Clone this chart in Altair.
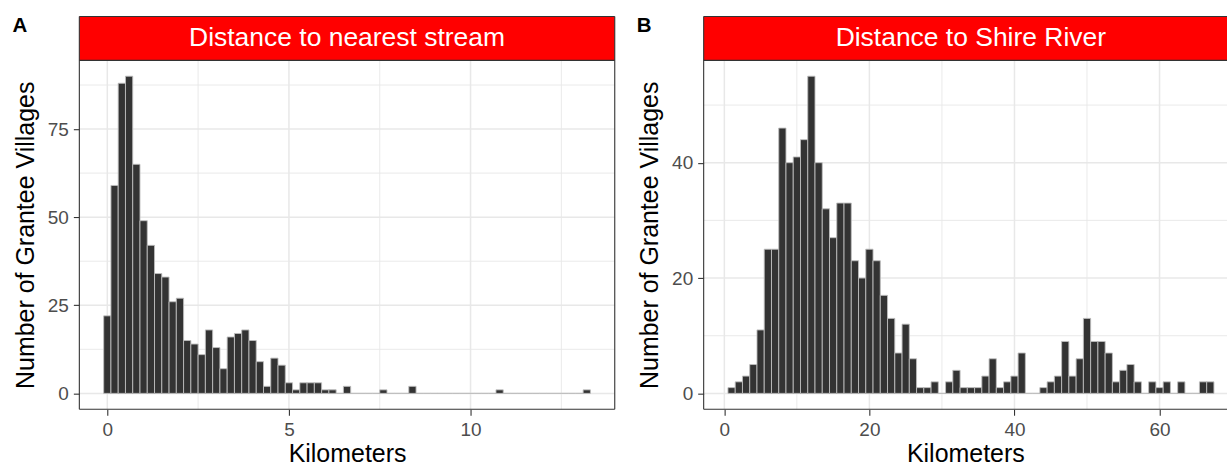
import altair as alt
import pandas as pd

FONT = "Liberation Sans"

# ---------------- data ----------------
a_bin_centers = [0.0, 0.2, 0.4, 0.6, 0.8, 1.0, 1.2, 1.4, 1.6, 1.8,
                 2.0, 2.2, 2.4, 2.6, 2.8, 3.0, 3.2, 3.4, 3.6, 3.8,
                 4.0, 4.2, 4.4, 4.6, 4.8, 5.0, 5.2, 5.4, 5.6, 5.8,
                 6.0, 6.2, 6.4, 6.6, 6.8, 7.0, 7.2, 7.4, 7.6, 7.8,
                 8.0, 8.2, 8.4, 8.6, 8.8, 9.0, 9.2, 9.4, 9.6, 9.8,
                 10.0, 10.2, 10.4, 10.6, 10.8, 11.0, 11.2, 11.4, 11.6, 11.8,
                 12.0, 12.2, 12.4, 12.6, 12.8, 13.0, 13.2]
a_counts = [22, 59, 88, 90, 65, 49, 42, 34, 33, 26,
            27, 15, 14, 11, 18, 13, 7, 16, 17, 18,
            15, 9, 2, 10, 8, 3, 1, 3, 3, 3,
            1, 1, 0, 2, 0, 0, 0, 0, 1, 0,
            0, 0, 2, 0, 0, 0, 0, 0, 0, 0,
            0, 0, 0, 0, 1, 0, 0, 0, 0, 0,
            0, 0, 0, 0, 0, 0, 1]
a_bin_width = 0.2

b_bin_centers = [1, 2, 3, 4, 5, 6, 7, 8, 9, 10,
                 11, 12, 13, 14, 15, 16, 17, 18, 19, 20,
                 21, 22, 23, 24, 25, 26, 27, 28, 29, 30,
                 31, 32, 33, 34, 35, 36, 37, 38, 39, 40,
                 41, 42, 43, 44, 45, 46, 47, 48, 49, 50,
                 51, 52, 53, 54, 55, 56, 57, 58, 59, 60,
                 61, 62, 63, 64, 65, 66, 67]
b_counts = [1, 2, 3, 5, 11, 25, 25, 46, 40, 41,
            44, 55, 40, 32, 27, 33, 33, 23, 20, 25,
            23, 17, 13, 7, 12, 6, 1, 1, 2, 0,
            2, 4, 1, 1, 1, 3, 6, 1, 2, 3,
            7, 0, 0, 1, 2, 3, 9, 3, 6, 13,
            9, 9, 7, 2, 4, 5, 2, 0, 2, 1,
            2, 0, 2, 0, 0, 2, 2]
b_bin_width = 1.0

panel_titles = ["Distance to nearest stream", "Distance to Shire River"]
panel_letters = ["A", "B"]
x_title = "Kilometers"
y_title = "Number of Grantee Villages"

a_x_major = [0, 5, 10]
a_x_minor = [2.5, 7.5, 12.5]
a_y_major = [0, 25, 50, 75]
a_y_minor = [12.5, 37.5, 62.5, 87.5]
b_x_major = [0, 20, 40, 60]
b_x_minor = [10, 30, 50]
b_y_major = [0, 20, 40]
b_y_minor = [10, 30, 50]

a_x_domain = [-0.77, 13.97]
a_y_domain = [-4.5, 94.5]
b_x_domain = [-2.85, 69.3]
b_y_domain = [-2.75, 57.75]

# ---------------- layout ----------------
H = 393.6      # strip + plot height
STRIP = 44     # strip height
W_A = 536.5
W_B = 524.4
BORDER = "#333333"
GRID = "#E8E8E8"
ONE = alt.Data(values=[{"k": 0}])


def panel(centers, counts, bw, xdom, ydom, xmaj, xmin, ymaj, ymin, W,
          title, title_x, letter, right_border):
    bars = pd.DataFrame({
        "start": [c - bw / 2 for c in centers],
        "end": [c + bw / 2 for c in centers],
        "count": counts,
    })
    xs = alt.Scale(domain=xdom, nice=False, zero=False)
    ys = alt.Scale(domain=ydom, range=[H, STRIP], nice=False, zero=False)
    xax = alt.Axis(values=xmaj, grid=False, domain=False, title=x_title,
                   labelFlush=False, labelOverlap=False)
    yax = alt.Axis(values=ymaj, grid=False, domain=False, title=y_title,
                   labelOverlap=False)

    def X(f):
        return alt.X(f, type="quantitative", scale=xs, axis=xax)

    def Y(f):
        return alt.Y(f, type="quantitative", scale=ys, axis=yax)

    layers = []
    for vals, sw in ((ymin, 0.9), (ymaj, 1.5)):
        layers.append(
            alt.Chart(pd.DataFrame({"v": vals})).mark_rule(color=GRID, strokeWidth=sw)
            .encode(y=Y("v"), x=alt.value(0), x2=alt.value(W))
        )
    for vals, sw in ((xmin, 0.9), (xmaj, 1.5)):
        layers.append(
            alt.Chart(pd.DataFrame({"v": vals})).mark_rule(color=GRID, strokeWidth=sw)
            .encode(x=X("v"), y=alt.value(STRIP), y2=alt.value(H))
        )
    layers.append(
        alt.Chart(bars).mark_rect(fill="#333333", stroke="#BDBDBD", strokeWidth=0.9)
        .encode(x=X("start"), x2="end", y=Y("count"), y2=alt.datum(0))
    )
    layers.append(
        alt.Chart(ONE).mark_rect(fill="#FF0000")
        .encode(x=alt.value(0), x2=alt.value(W), y=alt.value(0), y2=alt.value(STRIP))
    )
    for yv in (0, STRIP, H):
        layers.append(
            alt.Chart(ONE).mark_rule(color=BORDER, strokeWidth=1.1)
            .encode(y=alt.value(yv), x=alt.value(0), x2=alt.value(W))
        )
    xs_border = [0, W] if right_border else [0]
    for xv in xs_border:
        layers.append(
            alt.Chart(ONE).mark_rule(color=BORDER, strokeWidth=1.1)
            .encode(x=alt.value(xv), y=alt.value(0), y2=alt.value(H))
        )
    layers.append(
        alt.Chart(ONE).mark_text(text=title, color="white", fontSize=26.5, font=FONT,
                                 align="center", baseline="middle")
        .encode(x=alt.value(title_x), y=alt.value(STRIP / 2))
    )
    layers.append(
        alt.Chart(ONE).mark_text(text=letter, color="black", fontSize=20.5, font=FONT,
                                 fontWeight="bold", align="left", baseline="top")
        .encode(x=alt.value(-67), y=alt.value(0))
    )
    return alt.layer(*layers).properties(width=W, height=H)


pA = panel(a_bin_centers, a_counts, a_bin_width, a_x_domain, a_y_domain,
           a_x_major, a_x_minor, a_y_major, a_y_minor, W_A,
           panel_titles[0], W_A / 2, panel_letters[0], True)
pB = panel(b_bin_centers, b_counts, b_bin_width, b_x_domain, b_y_domain,
           b_x_major, b_x_minor, b_y_major, b_y_minor, W_B,
           panel_titles[1], 267.7, panel_letters[1], False)

chart = (
    alt.hconcat(pA, pB, spacing=20.6)
    .properties(padding={"left": 12.5, "top": 15, "right": 0, "bottom": 0},
                background="white")
    .configure_view(stroke=None)
    .configure_axis(labelFont=FONT, titleFont=FONT, labelFontSize=19,
                    labelColor="#4D4D4D", titleFontSize=25, titleFontWeight="normal",
                    titleColor="black", tickColor=BORDER, tickSize=6, tickWidth=1.1)
    .configure_axisY(labelPadding=5, titlePadding=9)
    .configure_axisX(labelPadding=5, titlePadding=2)
)

chart.save("out.html", embed_options={"renderer": "svg", "actions": False})
